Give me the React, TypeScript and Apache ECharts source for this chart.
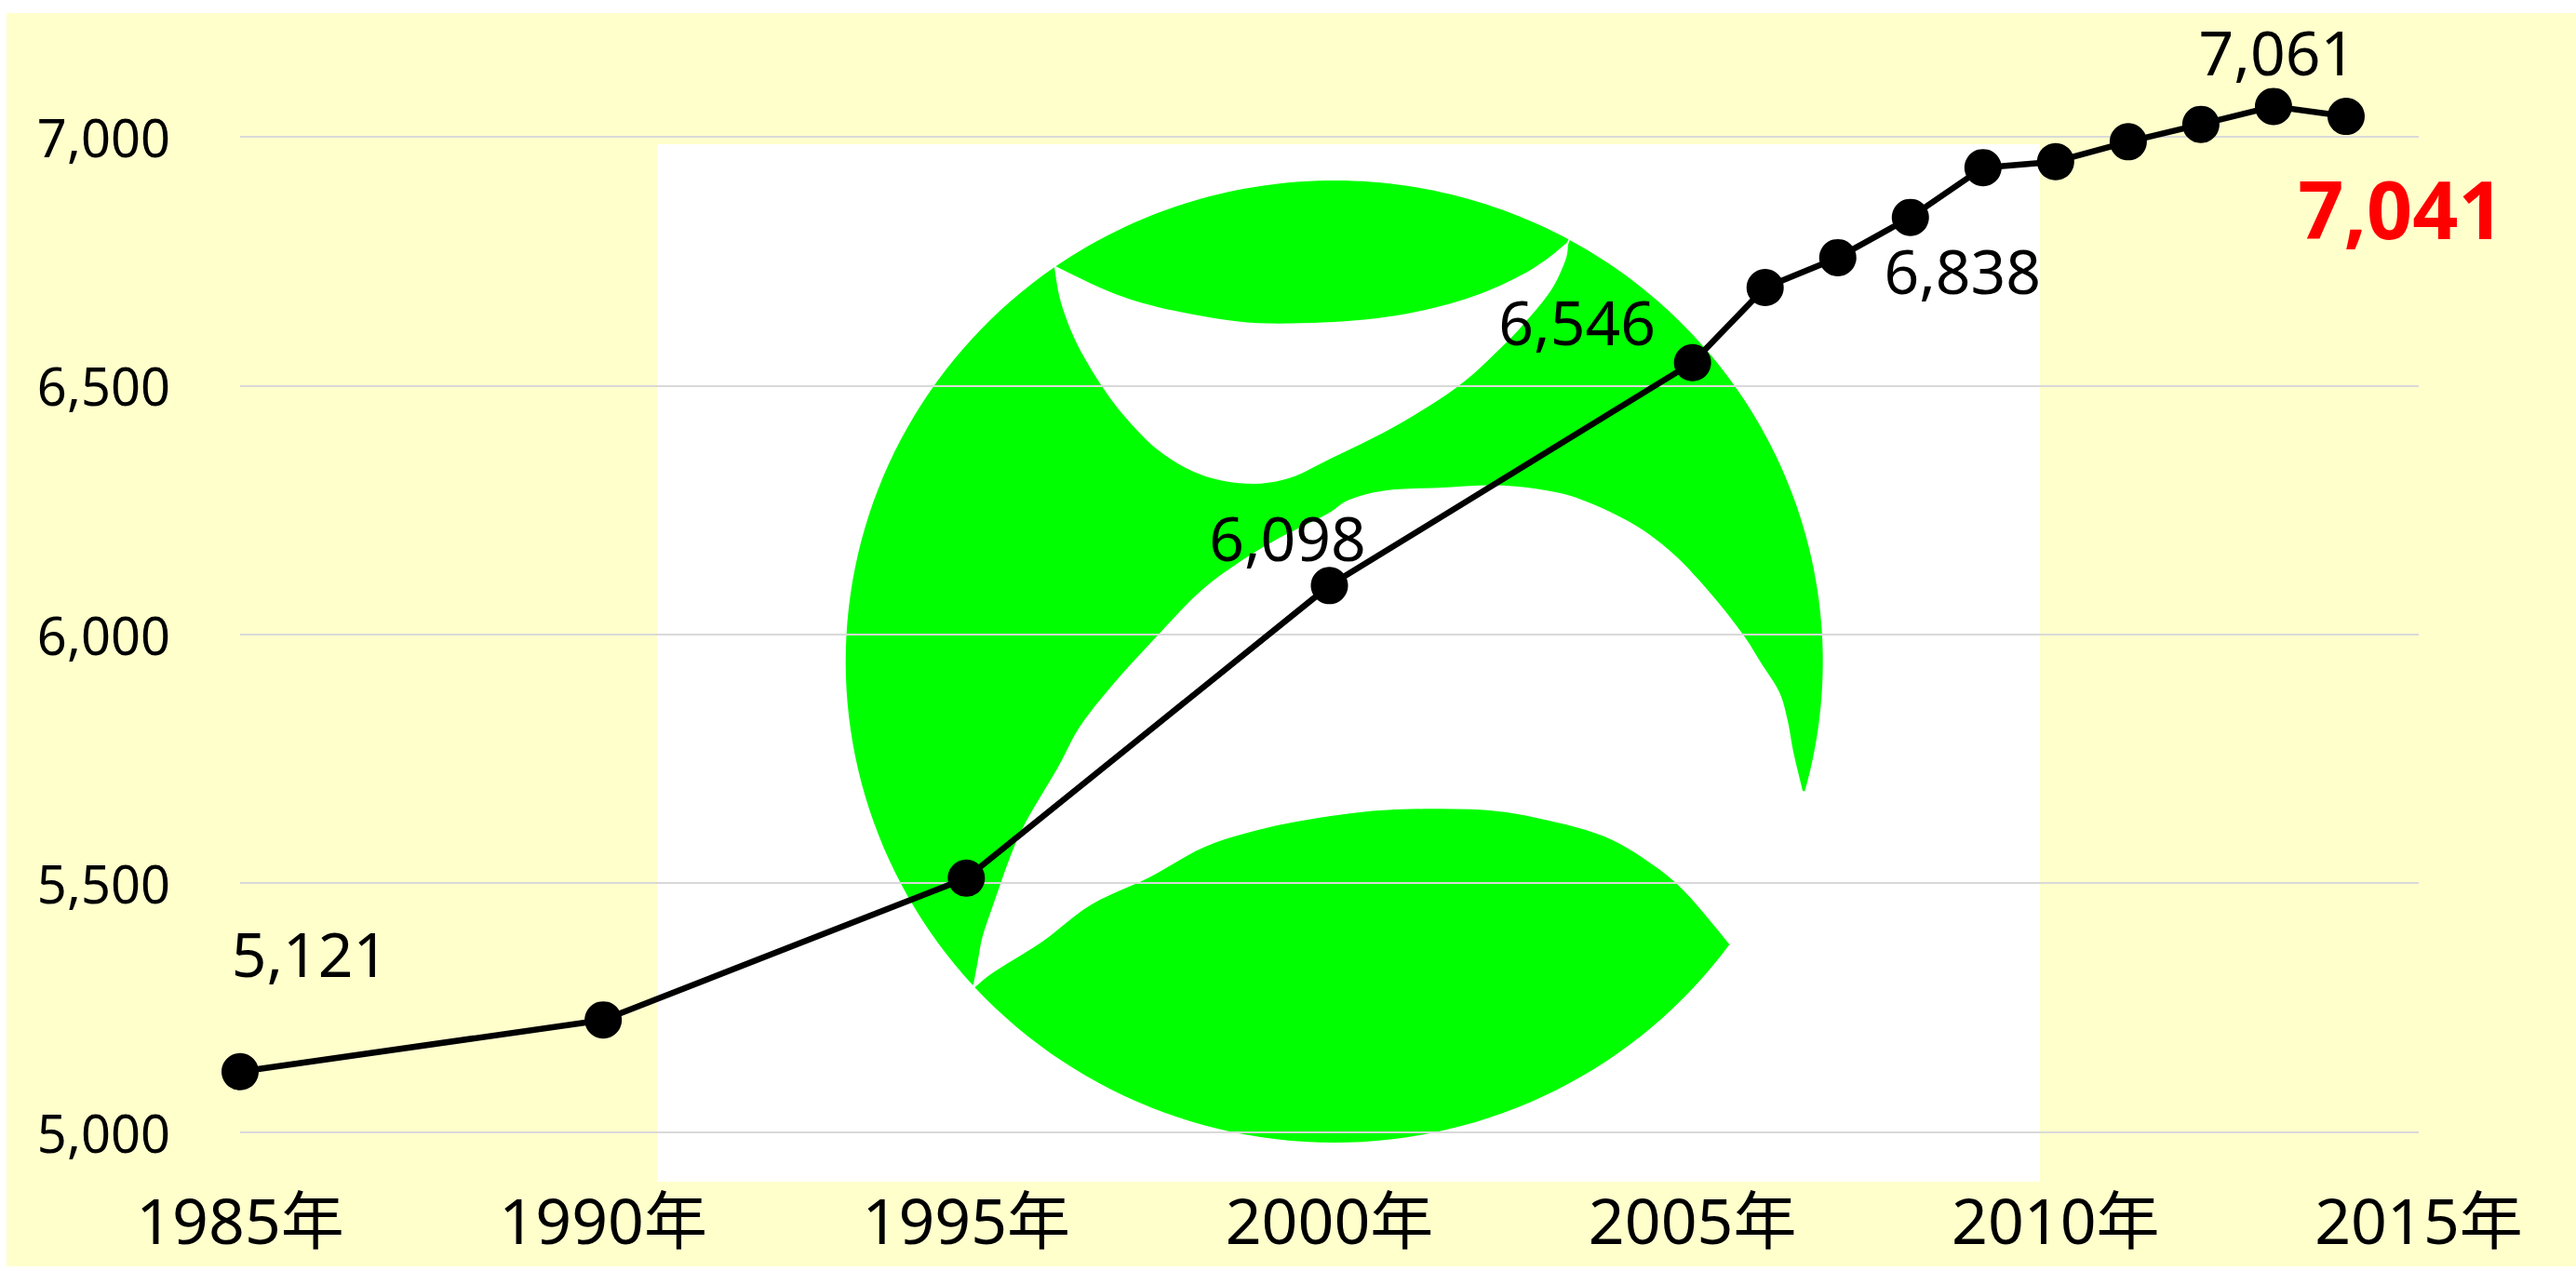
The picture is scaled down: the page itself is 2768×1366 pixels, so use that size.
import React, { useEffect, useRef } from "react";
import * as echarts from "echarts";

const years = [1985, 1990, 1995, 2000, 2005, 2006, 2007, 2008, 2009, 2010, 2011, 2012, 2013, 2014];
const population = [5121, 5225, 5510, 6098, 6546, 6697, 6757, 6838, 6938, 6950, 6990, 7025, 7061, 7041];
const labelledYears = [1985, 2000, 2005, 2008, 2013, 2014];
const highlightYear = 2014;

const FONT = '"Noto Sans", "Noto Sans CJK JP", sans-serif';
const labelOffsets: Record<number, [number, number]> = {
  1985: [75, -128],
  2000: [-45, -52],
  2005: [-124, -45],
  2008: [56, 56],
  2013: [4, -59],
  2014: [59, 98],
};

// Background logo: decoration only, in page pixels
type Pt = [number, number];
const CX = 1433.7;
const CY = 711;
const RX = 525;
const RY = 517;

function arc(a: Pt, b: Pt, increasing: boolean): Pt[] {
  const a1 = Math.atan2((a[1] - CY) / RY, (a[0] - CX) / RX);
  let a2 = Math.atan2((b[1] - CY) / RY, (b[0] - CX) / RX);
  if (increasing && a2 < a1) a2 += Math.PI * 2;
  if (!increasing && a2 > a1) a2 -= Math.PI * 2;
  const out: Pt[] = [];
  const n = 60;
  for (let i = 0; i <= n; i++) {
    const t = a1 + ((a2 - a1) * i) / n;
    out.push([CX + RX * Math.cos(t), CY + RY * Math.sin(t)]);
  }
  return out;
}

function curve(p: Pt[]): Pt[] {
  const out: Pt[] = [];
  for (let i = 0; i < p.length - 1; i++) {
    const p0 = p[Math.max(i - 1, 0)];
    const p1 = p[i];
    const p2 = p[i + 1];
    const p3 = p[Math.min(i + 2, p.length - 1)];
    for (let k = 0; k < 6; k++) {
      const t = k / 6;
      const t2 = t * t;
      const t3 = t2 * t;
      out.push([
        0.5 * (2 * p1[0] + (p2[0] - p0[0]) * t + (2 * p0[0] - 5 * p1[0] + 4 * p2[0] - p3[0]) * t2 + (3 * p1[0] - p0[0] - 3 * p2[0] + p3[0]) * t3),
        0.5 * (2 * p1[1] + (p2[1] - p0[1]) * t + (2 * p0[1] - 5 * p1[1] + 4 * p2[1] - p3[1]) * t2 + (3 * p1[1] - p0[1] - 3 * p2[1] + p3[1]) * t3),
      ]);
    }
  }
  out.push(p[p.length - 1]);
  return out;
}

const topInner: Pt[] = [
  [1683.5, 261], [1660, 280], [1633, 296.6], [1590, 316], [1540, 331], [1480, 342], [1410, 347],
  [1340, 346.5], [1272, 336], [1221, 323.7], [1180.6, 308.5], [1135, 286.5],
];
const bodyLower: Pt[] = [
  [1046, 1058], [1050.4, 1034.5], [1055.5, 1007.5], [1065.6, 977], [1086, 919.6], [1103, 882],
  [1136.6, 825], [1160.3, 781], [1197.5, 733.7], [1244.8, 682],
  [1288.8, 636.4], [1329, 606], [1373, 579], [1425, 553], [1450, 537], [1490, 527], [1550, 524], [1609, 521.5],
  [1666.6, 528], [1707, 540], [1758, 565], [1800, 597], [1840, 640], [1873, 682], [1892, 712], [1912, 744],
  [1921, 775], [1927, 808], [1937, 850],
];
const bodyUpper: Pt[] = [
  [1685, 263], [1682, 280], [1666.6, 312], [1639.6, 345.6], [1612.6, 374], [1565, 416.6], [1497.6, 459],
  [1430, 492.7], [1385, 514], [1339.5, 519.8], [1288.8, 509.6], [1244.8, 484], [1211, 450.4], [1184, 415], [1157, 369],
  [1140, 325], [1133, 287.5],
];
const bottomUpper: Pt[] = [
  [1048.7, 1060], [1069, 1044], [1120, 1012], [1173, 972], [1235, 943], [1295, 910], [1360, 890], [1430, 877],
  [1500, 870], [1595, 870.6], [1660, 881], [1724, 899], [1771, 926], [1810, 958], [1859.3, 1016],
];

const logoTop = [...arc([1135, 286.5], [1683.5, 261], true), ...curve(topInner)];
const logoBody = [
  ...arc([1133, 287.5], [1046, 1058], false),
  ...curve(bodyLower),
  ...arc([1937, 850], [1685, 261], false),
  ...curve(bodyUpper),
];
const logoBottom = [...curve(bottomUpper), ...arc([1859.3, 1016], [1048.7, 1060], true)];

const seriesData = years.map((year, i) => {
  const labelled = labelledYears.includes(year);
  const hot = year === highlightYear;
  return {
    value: [year, population[i]],
    label: labelled
      ? {
          show: true,
          position: "inside" as const,
          offset: labelOffsets[year],
          formatter: population[i].toLocaleString("en-US"),
          fontFamily: FONT,
          fontSize: hot ? 86 : 66,
          fontWeight: hot ? ("bold" as const) : ("normal" as const),
          color: hot ? "#FF0000" : "#000000",
        }
      : { show: false },
  };
});

export default function App() {
  const ref = useRef<HTMLDivElement>(null);
  useEffect(() => {
    const chart = echarts.init(ref.current!, null, { renderer: "svg" });
    chart.setOption({
      animation: false,
      backgroundColor: "#FFFFFF",
      graphic: {
        elements: [
          { type: "rect", z: -5, silent: true, shape: { x: 7, y: 14, width: 2761, height: 1347 }, style: { fill: "#FFFFCC" } },
          { type: "rect", z: -4, silent: true, shape: { x: 706, y: 155, width: 1486, height: 1115 }, style: { fill: "#FFFFFF" } },
          { type: "polygon", z: -3, silent: true, shape: { points: logoTop }, style: { fill: "#00FF00" } },
          { type: "polygon", z: -3, silent: true, shape: { points: logoBody }, style: { fill: "#00FF00" } },
          { type: "polygon", z: -3, silent: true, shape: { points: logoBottom }, style: { fill: "#00FF00" } },
        ],
      },
      grid: { left: 258, right: 169, top: 147, bottom: 149.5, containLabel: false },
      xAxis: {
        type: "value",
        min: 1985,
        max: 2015,
        interval: 5,
        axisLine: { show: false },
        axisTick: { show: false },
        splitLine: { show: false },
        axisLabel: {
          formatter: (v: number) => `${v}年`,
          color: "#000000",
          fontFamily: FONT,
          fontSize: 68,
          margin: 60,
          hideOverlap: false,
          showMinLabel: true,
          showMaxLabel: true,
        },
      },
      yAxis: {
        type: "value",
        min: 5000,
        max: 7000,
        interval: 500,
        axisLine: { show: false },
        axisTick: { show: false },
        splitLine: { show: true, lineStyle: { color: "#D9D9D9", width: 2 } },
        axisLabel: {
          formatter: (v: number) => v.toLocaleString("en-US"),
          color: "#000000",
          fontFamily: FONT,
          fontSize: 56,
          margin: 75,
          padding: [0, 0, 8, 0],
        },
      },
      series: [
        {
          type: "line",
          data: seriesData,
          clip: false,
          symbol: "circle",
          symbolSize: 40,
          showSymbol: true,
          showAllSymbol: true,
          lineStyle: { color: "#000000", width: 6.5 },
          itemStyle: { color: "#000000" },
        },
      ],
    });
    return () => chart.dispose();
  }, []);
  return <div ref={ref} style={{ position: "fixed", left: 0, top: 0, width: 2768, height: 1366 }} />;
}
